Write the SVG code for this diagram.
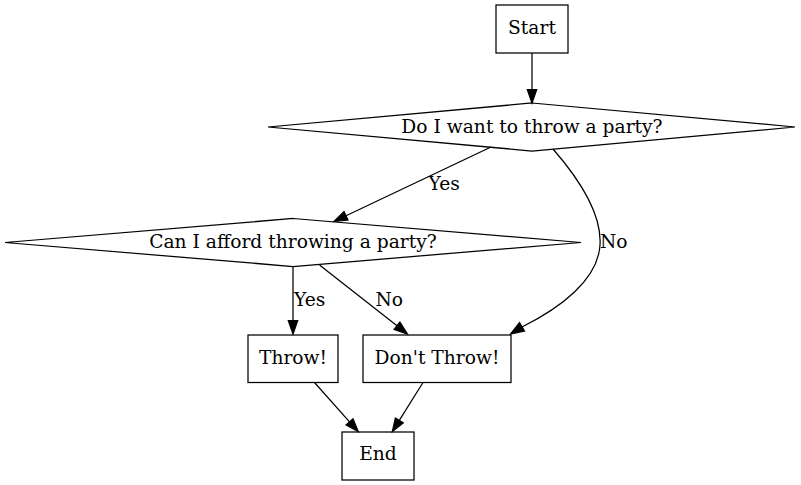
<svg xmlns="http://www.w3.org/2000/svg" width="801" height="485" viewBox="0 0 801 485">
<style>
.n{fill:#fff;stroke:#000;stroke-width:1.25}
.t{font-family:"DejaVu Serif",serif;font-size:18.67px;fill:#000;text-anchor:middle}
.l{font-family:"DejaVu Serif",serif;font-size:18.67px;fill:#000;text-anchor:start}
.e{fill:none;stroke:#000;stroke-width:1.25}
.h{fill:#000;stroke:#000;stroke-width:1.25}
</style>
<rect width="801" height="485" fill="#fff"/>
<g id="start"><rect class="n" x="496" y="5" width="72" height="48"/><text class="t" x="532" y="34">Start</text></g>
<g id="want"><polygon class="n" points="532,103 795,127 532,151 268,127"/><text class="t" x="532" y="132.5">Do I want to throw a party?</text></g>
<g id="afford"><polygon class="n" points="293,218.5 581,242.5 293,266.5 5,242.5"/><text class="t" x="293" y="248.3">Can I afford throwing a party?</text></g>
<g id="throw"><rect class="n" x="248" y="335" width="90" height="47.5"/><text class="t" x="293" y="364.3">Throw!</text></g>
<g id="dont"><rect class="n" x="363" y="335" width="148" height="47.5"/><text class="t" x="437" y="364.3">Don't Throw!</text></g>
<g id="end"><rect class="n" x="342" y="432" width="72" height="48"/><text class="t" x="378" y="460">End</text></g>
<g id="edges">
<path class="e" d="M532,53 L532,90"/>
<polygon class="h" points="527.3,89.5 536.7,89.5 532,103"/>
<path class="e" d="M491,147 L346,215.8"/>
<polygon class="h" points="344,211.6 348,220 334,221.5"/>
<text class="l" x="428.5" y="190">Yes</text>
<path class="e" d="M553,149 C580,180 602,215 600,245 C598,280 560,308 522,327"/>
<polygon class="h" points="519.5,322.5 524.5,331 510.5,334"/>
<text class="l" x="600" y="248.3">No</text>
<path class="e" d="M293,267 L293,321"/>
<polygon class="h" points="288.3,320.5 297.7,320.5 293,334"/>
<text class="l" x="294" y="305.7">Yes</text>
<path class="e" d="M319.5,265 L397,325.8"/>
<polygon class="h" points="394.1,329.5 399.9,322.1 407.5,334"/>
<text class="l" x="375.5" y="305.7">No</text>
<path class="e" d="M314.5,382.5 L349.5,421.8"/>
<polygon class="h" points="346,424.9 353,418.7 358.3,431.7"/>
<path class="e" d="M423,382.5 L399.3,420.4"/>
<polygon class="h" points="395.4,418 403.3,422.9 392.3,431.7"/>
</g>
</svg>
